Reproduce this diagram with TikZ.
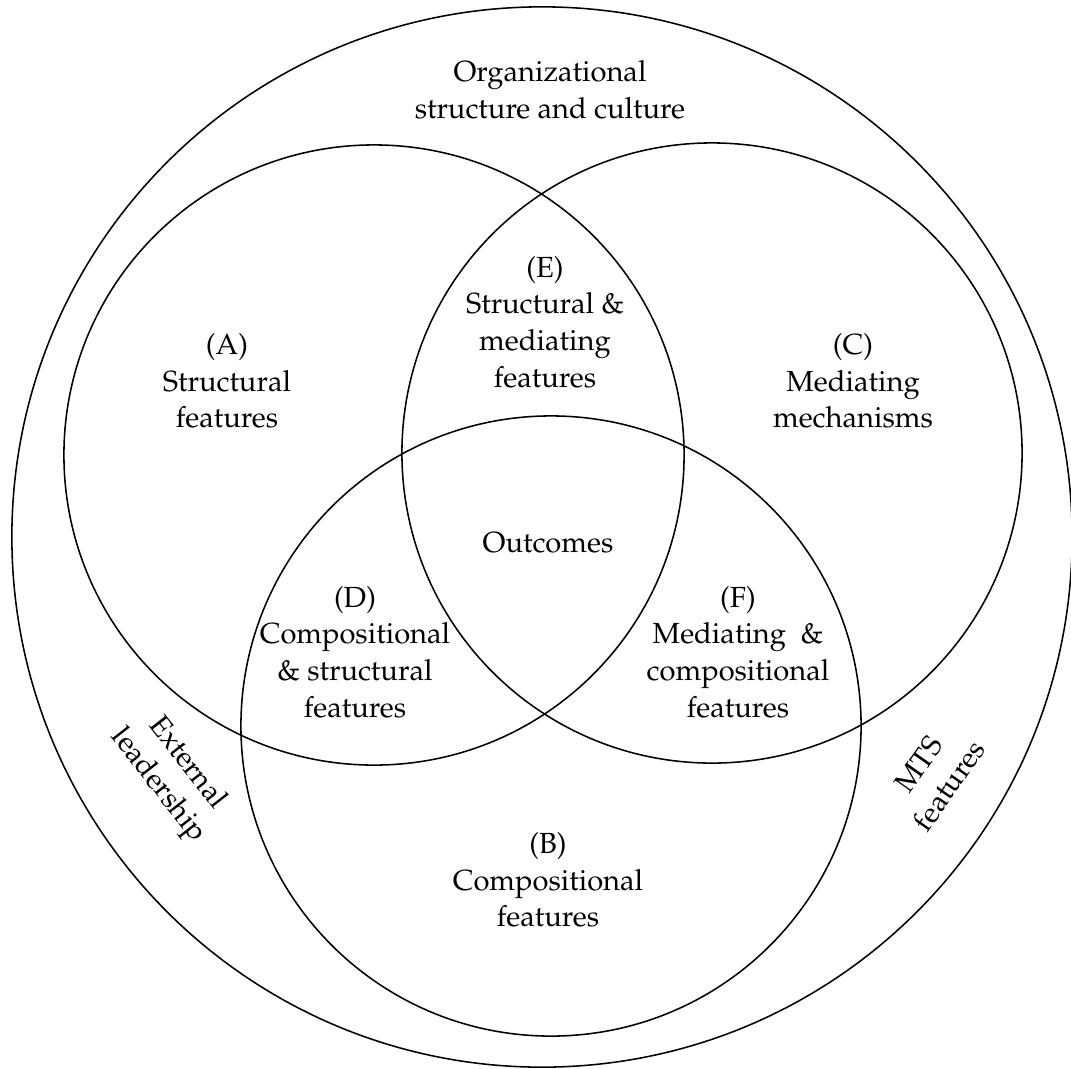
\documentclass[tikz,border=0pt]{standalone}
\usepackage[T1]{fontenc}
\usepackage{mathpazo}
\begin{document}
\begin{tikzpicture}[x=0.025cm, y=-0.025cm,
  ring/.style={draw, circle, line width=1.1pt, inner sep=0pt},
  lbl/.style={align=center, inner sep=0pt,
    font=\fontsize{20.7}{26}\selectfont}]
\useasboundingbox (0,0) rectangle (1071,1068);

% outer context and the three overlapping sets
\node[ring, minimum size=26.5cm] (outer) at (542,537) {};
\node[ring, minimum size=15.5cm] (setA) at (374,455) {};
\node[ring, minimum size=15.5cm] (setC) at (712,453) {};
\node[ring, minimum size=15.5cm] (setB) at (551,726) {};

% region labels
\node[lbl] (org) at (550,90) {Organizational\\structure and culture};
\node[lbl] (labA) at (227,381) {(A)\\Structural\\features};
\node[lbl] (labC) at (853,381) {(C)\\Mediating\\mechanisms};
\node[lbl] (labE) at (545,322) {(E)\\Structural \&\\mediating\\features};
\node[lbl] (labO) at (548,543) {Outcomes};
\node[lbl] (labD) at (355,652) {(D)\\Compositional\\\& structural\\features};
\node[lbl] (labF) at (738,652) {(F)\\Mediating\ \ \&\\compositional\\features};
\node[lbl] (labB) at (548,880) {(B)\\Compositional\\features};

% labels along the outer ring
\node[lbl, rotate=-52] (ext) at (172,775) {External\\leadership};
\node[lbl, rotate=55] (mts) at (934,775) {MTS\\features};
\end{tikzpicture}
\end{document}
